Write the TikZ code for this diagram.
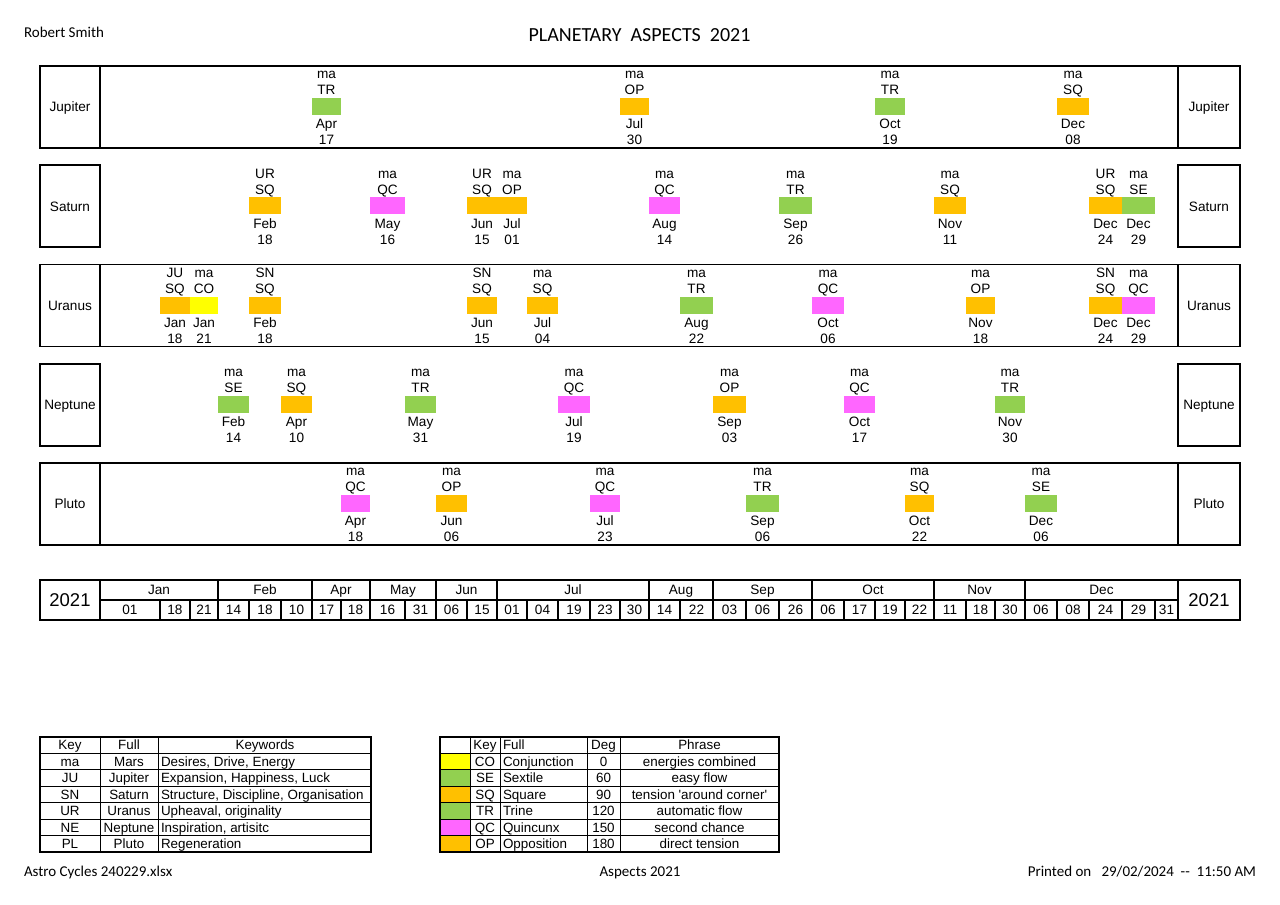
\documentclass[tikz,border=0pt]{standalone}
\usepackage{fontspec}
\setmainfont{Liberation Sans}
\newfontfamily\calibri{Carlito}
\definecolor{trine}{HTML}{92D050}
\definecolor{square}{HTML}{FFC000}
\definecolor{quinc}{HTML}{FF66FF}
\definecolor{conj}{HTML}{FFFF00}

% one row of aspects: #1 = row index, #2 = list of
% left/right/planet/aspect/month/day/colour
\newcommand\aspectrow[2]{%
  \pgfmathsetmacro\yt{66+99.25*#1}%
  \foreach \xa/\xb/\who/\asp/\mo/\dd/\ca [count=\k] in {#2} {
    \pgfmathsetmacro\xc{(\xa+\xb)/2}
    \pgfmathsetmacro\bw{\xb-\xa}
    \node[aspbox, fill=\ca, minimum width=\bw pt] (a#1-\k) at (\xc,\yt+40.5) {};
    \node[lbl] (a#1-\k-who) at (\xc,\yt+8) {\who};
    \node[lbl] (a#1-\k-asp) at (\xc,\yt+24) {\asp};
    \node[lbl] (a#1-\k-mo)  at (\xc,\yt+58) {\mo};
    \node[lbl] (a#1-\k-dd)  at (\xc,\yt+74) {\dd};
  }%
}

\begin{document}
\begin{tikzpicture}[x=1pt, y=-1pt,
  every node/.style={inner sep=0pt, outer sep=0pt},
  lbl/.style={font=\fontsize{13.6}{15}\selectfont, text height=9.7pt, text depth=0pt},
  tbl/.style={font=\fontsize{13.4}{15}\selectfont, text height=9.5pt, text depth=0pt},
  big/.style={font=\fontsize{18.5}{20}\selectfont, text height=13.3pt, text depth=0pt},
  cal/.style={font=\calibri\fontsize{15}{17}\selectfont, text height=9.6pt, text depth=0pt},
  ttl/.style={font=\calibri\fontsize{20}{22}\selectfont, text height=12.9pt, text depth=0pt},
  aspbox/.style={rectangle, draw=none, minimum height=17pt},
  frame/.style={line width=1.7pt},
  grid/.style={line width=1.2pt},
  dayline/.style={line width=1.5pt},
  tgrid/.style={line width=1pt},
  tframe/.style={line width=1.4pt}]

\useasboundingbox (0,0) rectangle (1280,905);
\fill[white] (0,0) rectangle (1280,905);

% header
\node[cal, anchor=west] (author) at (24,33) {Robert Smith};
\node[ttl] (title) at (639.5,35) {PLANETARY\ \ ASPECTS\ \ 2021};

% planet rows
\foreach \i/\pl/\full in {0/Jupiter/1,1/Saturn/0,2/Uranus/1,3/Neptune/0,4/Pluto/1}{
  \pgfmathsetmacro\yt{66+99.25*\i}
  \pgfmathsetmacro\yb{\yt+82}
  \pgfmathsetmacro\ym{\yt+41}
  \node[lbl] (pl-\i-l) at (70,\ym) {\pl};
  \node[lbl] (pl-\i-r) at (1209,\ym) {\pl};
  \ifnum\full=1
    \draw[grid] (100,\yt) -- (100,\yb) (1178,\yt) -- (1178,\yb);
    \draw[frame] (40,\yt) rectangle (1240,\yb);
  \else
    \draw[frame] (40,\yt) rectangle (100,\yb);
    \draw[frame] (1178,\yt) rectangle (1240,\yb);
  \fi
}

% Jupiter
\aspectrow{0}{312/341/ma/TR/Apr/17/trine, 620/649/ma/OP/Jul/30/square,
  875/905/ma/TR/Oct/19/trine, 1057/1089/ma/SQ/Dec/08/square}
% Saturn
\aspectrow{1}{249/281/UR/SQ/Feb/18/square, 370/405/ma/QC/May/16/quinc,
  467/497/UR/SQ/Jun/15/square, 497/527/ma/OP/Jul/01/square,
  649/680/ma/QC/Aug/14/quinc, 779/812/ma/TR/Sep/26/trine,
  934/966/ma/SQ/Nov/11/square, 1089/1122/UR/SQ/Dec/24/square,
  1122/1155/ma/SE/Dec/29/trine}
% Uranus
\aspectrow{2}{160/190/JU/SQ/Jan/18/square, 190/218/ma/CO/Jan/21/conj,
  249/281/SN/SQ/Feb/18/square, 467/497/SN/SQ/Jun/15/square,
  527/558/ma/SQ/Jul/04/square, 680/713/ma/TR/Aug/22/trine,
  812/844/ma/QC/Oct/06/quinc, 966/995/ma/OP/Nov/18/square,
  1089/1122/SN/SQ/Dec/24/square, 1122/1155/ma/QC/Dec/29/quinc}
% Neptune
\aspectrow{3}{218/249/ma/SE/Feb/14/trine, 281/312/ma/SQ/Apr/10/square,
  405/436/ma/TR/May/31/trine, 558/590/ma/QC/Jul/19/quinc,
  713/746/ma/OP/Sep/03/square, 844/875/ma/QC/Oct/17/quinc,
  995/1025/ma/TR/Nov/30/trine}
% Pluto
\aspectrow{4}{341/370/ma/QC/Apr/18/quinc, 436/467/ma/OP/Jun/06/square,
  590/620/ma/QC/Jul/23/quinc, 746/779/ma/TR/Sep/06/trine,
  905/934/ma/SQ/Oct/22/square, 1025/1057/ma/SE/Dec/06/trine}

% timeline
\node[big] (yr-l) at (70,600) {2021};
\node[big] (yr-r) at (1209,600) {2021};
\draw[grid] (100,580) -- (100,620) (1178,580) -- (1178,620) (100,600) -- (1178,600);
\foreach \nm/\xa/\xb [count=\k] in {Jan/100/218, Feb/218/312, Apr/312/370, May/370/436,
    Jun/436/497, Jul/497/649, Aug/649/713, Sep/713/812, Oct/812/934,
    Nov/934/1025, Dec/1025/1178}{
  \pgfmathsetmacro\xc{(\xa+\xb)/2}
  \draw[grid] (\xb,580) -- (\xb,600);
  \node[lbl] (mon-\k) at (\xc,590) {\nm};
}
\foreach \dd/\xa/\xb [count=\k] in {01/100/160, 18/160/190, 21/190/218, 14/218/249,
    18/249/281, 10/281/312, 17/312/341, 18/341/370, 16/370/405, 31/405/436,
    06/436/467, 15/467/497, 01/497/527, 04/527/558, 19/558/590, 23/590/620,
    30/620/649, 14/649/680, 22/680/713, 03/713/746, 06/746/779, 26/779/812,
    06/812/844, 17/844/875, 19/875/905, 22/905/934, 11/934/966, 18/966/995,
    30/995/1025, 06/1025/1057, 08/1057/1089, 24/1089/1122, 29/1122/1155,
    31/1155/1178}{
  \pgfmathsetmacro\xc{(\xa+\xb)/2}
  \draw[dayline] (\xb,600) -- (\xb,620);
  \node[lbl] (day-\k) at (\xc,610) {\dd};
}
\draw[frame] (40,580) rectangle (1240,620);

% planet key table
\foreach \x in {100,158} \draw[tgrid] (\x,737) -- (\x,852);
\foreach \k in {1,...,6} \draw[tgrid] (40,{737+16.43*\k}) -- (371,{737+16.43*\k});
\draw[tframe] (40,737) rectangle (371,852);
\node[tbl] (k-h1) at (70,745.2) {Key};
\node[tbl] (k-h2) at (129,745.2) {Full};
\node[tbl] (k-h3) at (265,745.2) {Keywords};
\foreach \k/\ka/\kb/\kc in {1/ma/Mars/{Desires, Drive, Energy},
    2/JU/Jupiter/{Expansion, Happiness, Luck},
    3/SN/Saturn/{Structure, Discipline, Organisation},
    4/UR/Uranus/{Upheaval, originality},
    5/NE/Neptune/{Inspiration, artisitc},
    6/PL/Pluto/Regeneration}{
  \pgfmathsetmacro\yc{737+16.43*(\k+0.5)}
  \node[tbl] (k-\k-a) at (70,\yc) {\ka};
  \node[tbl] (k-\k-b) at (129,\yc) {\kb};
  \node[tbl, anchor=west] (k-\k-c) at (161,\yc) {\kc};
}

% aspect key table
\foreach \k/\ca in {1/conj,2/trine,3/square,4/trine,5/quinc,6/square}
  \fill[\ca] (440,{737+16.43*\k}) rectangle (470,{737+16.43*(\k+1)});
\foreach \x in {470,500,587,620} \draw[tgrid] (\x,737) -- (\x,852);
\foreach \k in {1,...,6} \draw[tgrid] (440,{737+16.43*\k}) -- (779,{737+16.43*\k});
\draw[tframe] (440,737) rectangle (779,852);
\node[tbl] (s-h1) at (485,745.2) {Key};
\node[tbl, anchor=west] (s-h2) at (503,745.2) {Full};
\node[tbl] (s-h3) at (603.5,745.2) {Deg};
\node[tbl] (s-h4) at (699.5,745.2) {Phrase};
\foreach \k/\sa/\sb/\sc/\sd in {1/CO/Conjunction/0/{energies combined},
    2/SE/Sextile/60/{easy flow},
    3/SQ/Square/90/{tension \textquotesingle around corner\textquotesingle},
    4/TR/Trine/120/{automatic flow},
    5/QC/Quincunx/150/{second chance},
    6/OP/Opposition/180/{direct tension}}{
  \pgfmathsetmacro\yc{737+16.43*(\k+0.5)}
  \node[tbl] (s-\k-a) at (485,\yc) {\sa};
  \node[tbl, anchor=west] (s-\k-b) at (503,\yc) {\sb};
  \node[tbl] (s-\k-c) at (603.5,\yc) {\sc};
  \node[tbl] (s-\k-d) at (699.5,\yc) {\sd};
}

% footer
\node[cal, anchor=west] (foot-l) at (24,872) {Astro Cycles 240229.xlsx};
\node[cal] (foot-m) at (640,872) {Aspects 2021};
\node[cal, anchor=east] (foot-r) at (1256,872) {Printed on\ \ \ 29/02/2024\ \ -{}-\ \ 11:50 AM};
\end{tikzpicture}
\end{document}
